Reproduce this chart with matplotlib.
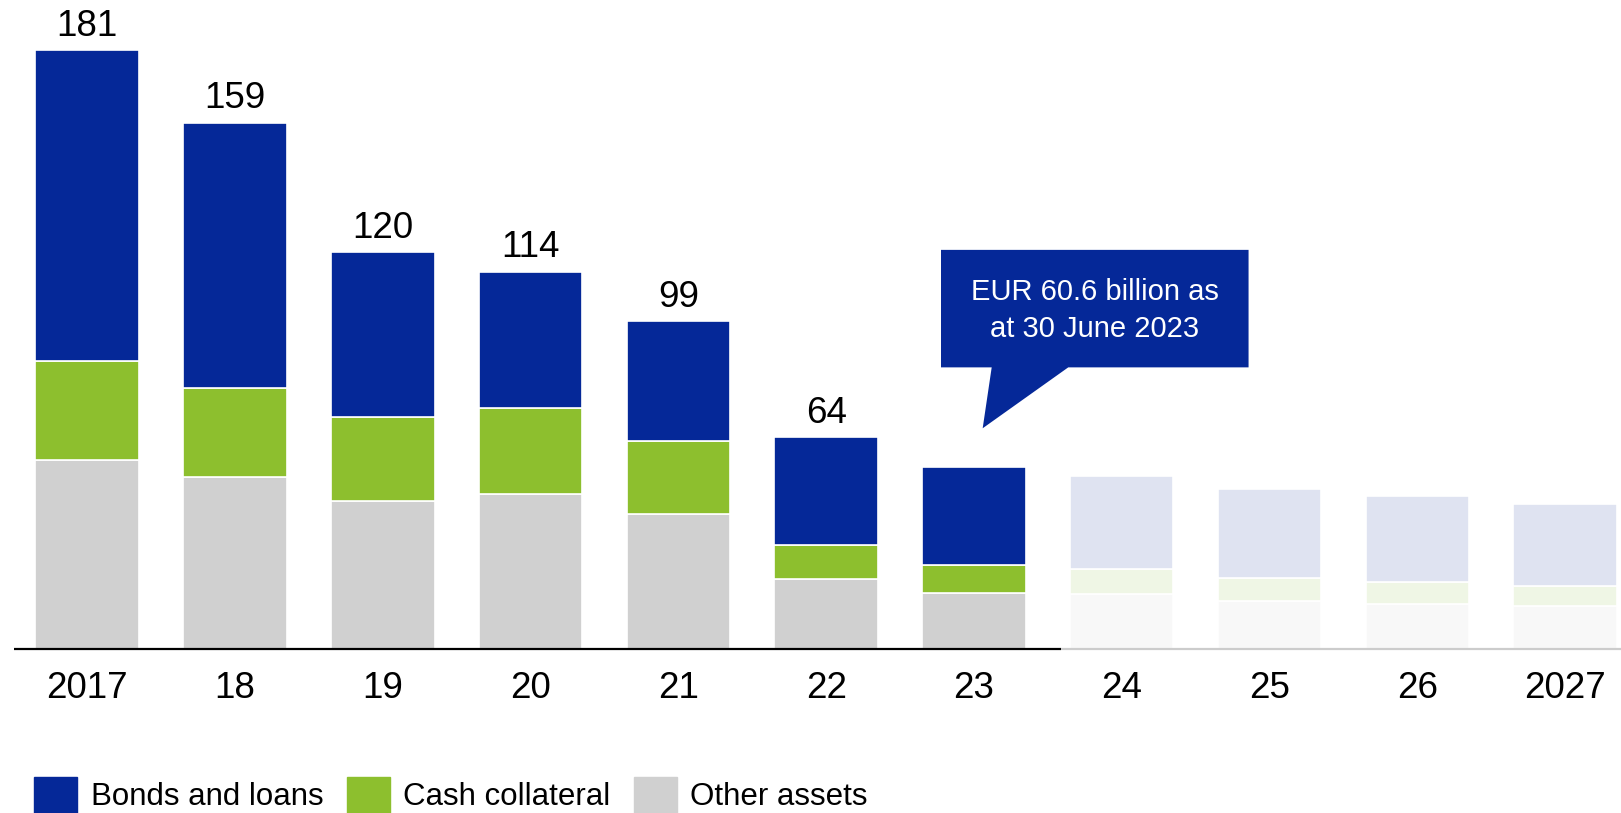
import numpy as np
import matplotlib
matplotlib.use('Agg')
import matplotlib.pyplot as plt
from matplotlib.patches import Polygon, Patch

plt.rcParams['font.family'] = ['Liberation Sans', 'DejaVu Sans']

# data (EUR billion)
years = ['2017', '18', '19', '20', '21', '22', '23', '24', '25', '26', '2027']
bonds = [94.1, 80.2, 50.0, 41.2, 36.2, 32.7, 29.7, 28.0, 26.8, 25.9, 24.8]
cash = [29.7, 26.9, 25.3, 25.9, 21.9, 10.0, 8.4, 7.6, 7.0, 6.6, 6.2]
other = [57.2, 51.9, 44.7, 46.9, 40.9, 21.3, 16.9, 16.7, 14.4, 13.6, 12.9]
totals = ['181', '159', '120', '114', '99', '64', '', '', '', '', '']
n_actual = 7  # 2017-23 actual, rest faded

blue, green, grey = '#052898', '#8DBF2E', '#D0D0D0'
blue_f, green_f, grey_f = '#DFE3F1', '#EFF6E5', '#F8F8F8'

x = np.arange(len(years))
bonds = np.array(bonds)
cash = np.array(cash)
other = np.array(other)

fig = plt.figure(figsize=(16.21, 8.13), dpi=100)
ax = fig.add_axes([0, 0.2017, 1, 0.7983])

c_other = [grey] * n_actual + [grey_f] * (len(x) - n_actual)
c_cash = [green] * n_actual + [green_f] * (len(x) - n_actual)
c_bonds = [blue] * n_actual + [blue_f] * (len(x) - n_actual)

ax.bar(x, other, width=0.7, color=c_other, edgecolor='white', linewidth=1.2)
ax.bar(x, cash, width=0.7, bottom=other, color=c_cash, edgecolor='white', linewidth=1.2)
ax.bar(x, bonds, width=0.7, bottom=other + cash, color=c_bonds, edgecolor='white', linewidth=1.2)

# total labels
top = other + cash + bonds
for i in range(len(x)):
    if totals[i]:
        ax.annotate(totals[i], (x[i], top[i]), xytext=(0, 10.3), textcoords='offset points',
                    ha='center', va='baseline', fontsize=26.5, color='black')

# base line: dark for actual years, light grey for the rest
ax.plot([-0.497, 6.59], [0, 0], color='black', lw=1.6, solid_capstyle='butt', clip_on=False)
ax.plot([6.59, 10.5], [0, 0], color='#cccccc', lw=1.6, solid_capstyle='butt', clip_on=False)

# callout for 2023
box = [(5.777, 120.6), (7.858, 120.6), (7.858, 85.1), (6.638, 85.1),
       (6.059, 66.7), (6.120, 85.1), (5.777, 85.1)]
ax.add_patch(Polygon(box, closed=True, facecolor=blue, edgecolor='none'))
ax.text(6.818, 102.2, 'EUR 60.6 billion as\nat 30 June 2023', ha='center', va='center',
        fontsize=21, color='white', linespacing=1.42)

ax.set_xlim(-0.590, 10.378)
ax.set_ylim(0, 196.1)
ax.set_xticks(x)
ax.set_xticklabels(years, fontsize=26.5)
ax.tick_params(axis='x', length=0, pad=16)
ax.set_yticks([])
for s in ax.spines.values():
    s.set_visible(False)

handles = [Patch(color=blue), Patch(color=green), Patch(color=grey)]
fig.legend(handles, ['Bonds and loans', 'Cash collateral', 'Other assets'],
           loc='upper left', bbox_to_anchor=(34.3 / 1621, 1 - 777 / 813), ncol=3,
           frameon=False, fontsize=22.5, handlelength=1.38, handleheight=1.4,
           handletextpad=0.42, columnspacing=0.75, borderpad=0, borderaxespad=0)

fig.savefig('out.png', dpi=100)
